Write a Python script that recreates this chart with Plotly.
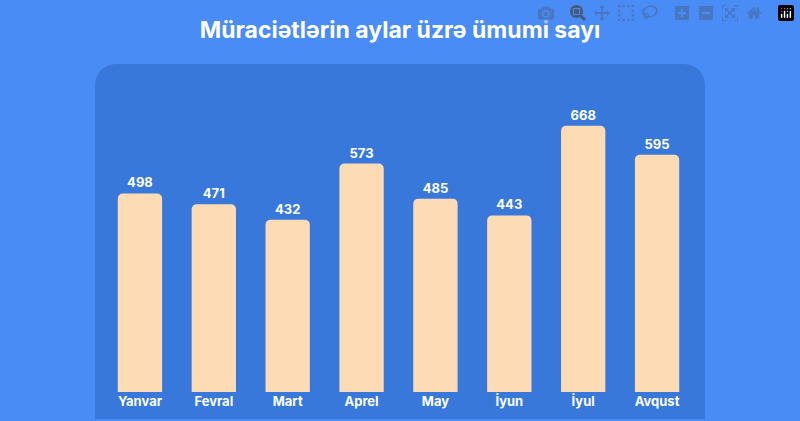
import plotly.graph_objects as go

months = ["Yanvar", "Fevral", "Mart", "Aprel", "May", "İyun", "İyul", "Avqust"]
values = [498, 471, 432, 573, 485, 443, 668, 595]

W, H = 800, 421
L, R, T, B = 103, 106, 93, 19
pw, ph = W - L - R, H - T - B
def px(x): return (x - L) / pw
def py(y): return (H - B - y) / ph

x0, x1, y0, y1 = px(95), px(705), py(430), py(63)
rx, ry = 24 / pw, 24 / ph
path = (f"M {x0},{y0} L {x0},{y1-ry} Q {x0},{y1} {x0+rx},{y1} "
        f"L {x1-rx},{y1} Q {x1},{y1} {x1},{y1-ry} L {x1},{y0} Z")

fig = go.Figure(go.Bar(
    x=months, y=values, width=0.6,
    marker=dict(color="#fddcb5", cornerradius=5, line=dict(width=0)),
    text=values, textposition="outside", cliponaxis=False,
    textfont=dict(color="white", size=13, family="Inter", weight="bold"),
))
fig.update_layout(
    width=W, height=H, margin=dict(l=L, r=R, t=T, b=B),
    paper_bgcolor="#4a8cf6", plot_bgcolor="rgba(0,0,0,0)",
    showlegend=False, bargap=0.4,
    title=dict(text="<b>Müraciətlərin aylar üzrə ümumi sayı</b>", x=0.5, y=0.93,
               xanchor="center", yanchor="middle",
               font=dict(color="white", size=23, family="Inter")),
    shapes=[dict(type="path", path=path, xref="paper", yref="paper",
                 fillcolor="#3878da", line=dict(width=0), layer="below")],
    xaxis=dict(showgrid=False, zeroline=False, showline=False, ticks="",
               tickfont=dict(color="white", size=13, family="Inter", weight="bold"),
               ticklabelstandoff=0),
    yaxis=dict(range=[0, 750], visible=False),
)
fig.write_html("out.html", post_script="document.body.style.margin='0';document.body.style.overflow='hidden';")
